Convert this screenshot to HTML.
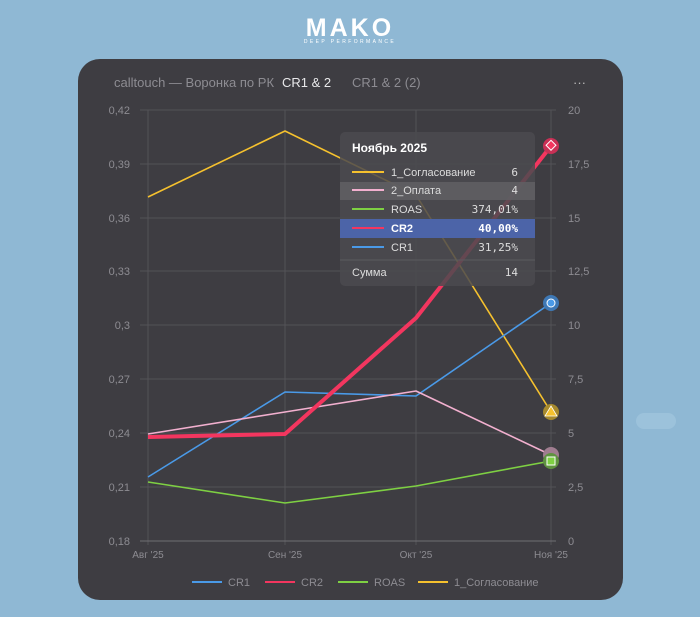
<!DOCTYPE html>
<html><head><meta charset="utf-8"><style>
body{margin:0;width:700px;height:617px;background:#8fb8d4;font-family:"Liberation Sans","DejaVu Sans",sans-serif;overflow:hidden;position:relative}
.card{position:absolute;left:78px;top:59px;width:545px;height:541px;background:#3e3d42;border-radius:22px}
.logo{position:absolute;left:0;width:700px;top:14px;text-align:center;color:#fff;font-weight:bold;font-size:25px;letter-spacing:3px}
.sub{position:absolute;left:0;width:700px;top:39px;text-align:center;color:#fff;font-size:5px;letter-spacing:2.4px}
.blob{position:absolute;left:636px;top:413px;width:40px;height:16px;border-radius:8px;background:#9cc2db}
</style></head><body>
<div class="logo">MAKO</div><div class="sub">DEEP PERFORMANCE</div>
<div class="blob"></div>
<div class="card"></div>
<svg width="700" height="617" style="position:absolute;left:0;top:0" font-family="Liberation Sans, DejaVu Sans, sans-serif">
<text x="114" y="87" fill="#8d8c92" font-size="13">calltouch — Воронка по РК</text>
<text x="282" y="87" fill="#e8e8ea" font-size="13">CR1 &amp; 2</text>
<text x="352" y="87" fill="#8d8c92" font-size="13">CR1 &amp; 2 (2)</text>
<text x="573" y="87" fill="#bbb" font-size="13">···</text>
<g stroke="#535257" stroke-width="1">
<line x1="140" x2="556" y1="110" y2="110"/><line x1="140" x2="556" y1="164" y2="164"/><line x1="140" x2="556" y1="218" y2="218"/><line x1="140" x2="556" y1="271" y2="271"/><line x1="140" x2="556" y1="325" y2="325"/><line x1="140" x2="556" y1="379" y2="379"/><line x1="140" x2="556" y1="433" y2="433"/><line x1="140" x2="556" y1="487" y2="487"/>
<line x1="148" x2="148" y1="110" y2="545"/><line x1="285" x2="285" y1="110" y2="545"/><line x1="416" x2="416" y1="110" y2="545"/><line x1="551" x2="551" y1="110" y2="545"/>
</g>
<line x1="140" x2="556" y1="541" y2="541" stroke="#6f6e73"/>
<g fill="#8d8c92" font-size="11" text-anchor="end">
<text x="130" y="114">0,42</text><text x="130" y="168">0,39</text><text x="130" y="222">0,36</text><text x="130" y="275">0,33</text><text x="130" y="329">0,3</text><text x="130" y="383">0,27</text><text x="130" y="437">0,24</text><text x="130" y="491">0,21</text><text x="130" y="545">0,18</text>
</g>
<g fill="#8d8c92" font-size="11">
<text x="568" y="114">20</text><text x="568" y="168">17,5</text><text x="568" y="222">15</text><text x="568" y="275">12,5</text><text x="568" y="329">10</text><text x="568" y="383">7,5</text><text x="568" y="437">5</text><text x="568" y="491">2,5</text><text x="568" y="545">0</text>
</g>
<g fill="#8d8c92" font-size="10" text-anchor="middle">
<text x="148" y="558">Авг '25</text><text x="285" y="558">Сен '25</text><text x="416" y="558">Окт '25</text><text x="551" y="558">Ноя '25</text>
</g>
<g fill="none" stroke-linejoin="round">
<polyline points="148,197 285,131 416,195 551,412" stroke="#f5c12e" stroke-width="1.6"/>
<polyline points="148,482 285,503 416,486 551,461" stroke="#7ed043" stroke-width="1.6"/>
<polyline points="148,477 285,392 416,396 551,303" stroke="#4a9ae8" stroke-width="1.6"/>
<polyline points="148,434 285,412 416,391 551,455" stroke="#f2b0cf" stroke-width="1.6"/>
<polyline points="148,437 285,434 416,318 551,146" stroke="#f3365f" stroke-width="4"/>
</g>
<circle cx="551" cy="146" r="8" fill="#c83055"/><rect x="547" y="142" width="7" height="7" transform="rotate(45 551 146)" fill="#f3365f" stroke="#fff" stroke-width="1"/>
<circle cx="551" cy="303" r="8" fill="#3e78b5"/><circle cx="551" cy="303" r="4" fill="#4a9ae8" stroke="#fff" stroke-width="1"/>
<circle cx="551" cy="412" r="8" fill="#a78a2d"/><polygon points="551,406 557,416 545,416" fill="#f5c12e" stroke="#fff" stroke-width="0.8"/>
<circle cx="551" cy="455" r="8" fill="#a07d90"/>
<circle cx="551" cy="461" r="8" fill="#5f9340"/><rect x="547" y="457" width="8" height="8" fill="#7ed043" stroke="#fff" stroke-width="1"/>
<rect x="340" y="132" width="195" height="154" rx="5" fill="#4b4a4f" fill-opacity="0.85"/>
<text x="352" y="152" fill="#fff" font-size="12" font-weight="bold">Ноябрь 2025</text>
<rect x="340" y="182" width="195" height="18" fill="#5f5e63" fill-opacity="0.9"/>
<rect x="340" y="219" width="195" height="19" fill="#4c64a8"/>
<g stroke-width="2"><line x1="352" x2="384" y1="172" y2="172" stroke="#f5c12e"/><line x1="352" x2="384" y1="190" y2="190" stroke="#f2b0cf"/><line x1="352" x2="384" y1="209" y2="209" stroke="#7ed043"/><line x1="352" x2="384" y1="228" y2="228" stroke="#f3365f"/><line x1="352" x2="384" y1="247" y2="247" stroke="#4a9ae8"/></g>
<g fill="#ddd" font-size="11"><text x="391" y="176">1_Согласование</text><text x="391" y="194">2_Оплата</text><text x="391" y="213">ROAS</text><text x="391" y="232" fill="#fff" font-weight="bold">CR2</text><text x="391" y="251">CR1</text><text x="352" y="276">Сумма</text></g>
<g fill="#ddd" font-size="11" text-anchor="end" font-family="DejaVu Sans Mono, monospace"><text x="518" y="176">6</text><text x="518" y="194">4</text><text x="518" y="213">374,01%</text><text x="518" y="232" fill="#fff" font-weight="bold">40,00%</text><text x="518" y="251">31,25%</text><text x="518" y="276">14</text></g>
<line x1="340" x2="535" y1="260" y2="260" stroke="#5c5b60"/>
<g stroke-width="2"><line x1="192" x2="222" y1="582" y2="582" stroke="#4a9ae8"/><line x1="265" x2="295" y1="582" y2="582" stroke="#f3365f"/><line x1="338" x2="368" y1="582" y2="582" stroke="#7ed043"/><line x1="418" x2="448" y1="582" y2="582" stroke="#f5c12e"/></g>
<g fill="#8d8c92" font-size="11"><text x="228" y="586">CR1</text><text x="301" y="586">CR2</text><text x="374" y="586">ROAS</text><text x="454" y="586">1_Согласование</text></g>
</svg>
</body></html>
